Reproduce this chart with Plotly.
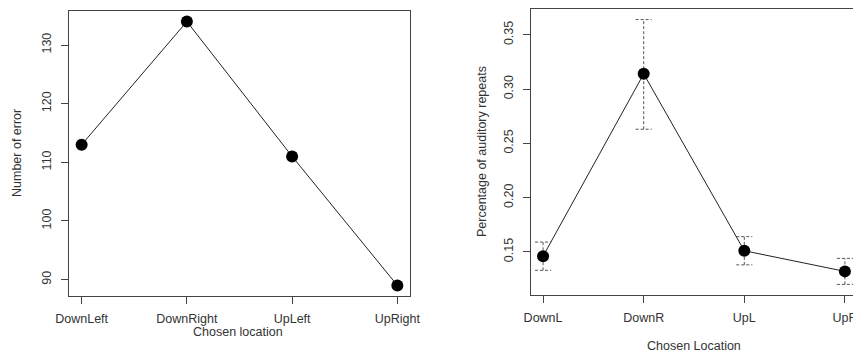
import plotly.graph_objects as go

# --- data -------------------------------------------------------------
locations_full = ["DownLeft", "DownRight", "UpLeft", "UpRight"]
error_counts = [113, 134, 111, 89]

locations_short = ["DownL", "DownR", "UpL", "UpR"]
repeat_pct = [0.146, 0.314, 0.151, 0.132]
repeat_upper = [0.159, 0.364, 0.164, 0.144]
repeat_lower = [0.133, 0.263, 0.138, 0.120]

left_yticks = [90, 100, 110, 120, 130]
right_yticks = [0.15, 0.20, 0.25, 0.30, 0.35]

# --- styling ----------------------------------------------------------
W, H = 853, 353
FONT = dict(family="Liberation Sans, Arial, sans-serif", size=12.5, color="#333333")
AXIS_COL = "#444444"
CAP_HALF = 0.08  # half-width of error bar caps, in x units


def px_x(p):
    return p / W


def px_y(p):
    return 1 - p / H


def padded(lo, hi, frac=0.04):
    d = (hi - lo) * frac
    return [lo - d, hi + d]


pos_left = [i + 1 for i in range(len(locations_full))]
pos_right = [i + 1 for i in range(len(locations_short))]

fig = go.Figure()

# left panel: number of errors
fig.add_trace(go.Scatter(
    x=pos_left, y=error_counts, mode="lines+markers",
    line=dict(color="#222222", width=1),
    marker=dict(color="black", size=12, line=dict(width=0)),
    xaxis="x", yaxis="y", cliponaxis=False, showlegend=False,
))

# right panel: dashed error bars built from the bounds
ex, ey = [], []
for p, lo, hi in zip(pos_right, repeat_lower, repeat_upper):
    ex += [p, p, None, p - CAP_HALF, p + CAP_HALF, None, p - CAP_HALF, p + CAP_HALF, None]
    ey += [lo, hi, None, hi, hi, None, lo, lo, None]
fig.add_trace(go.Scatter(
    x=ex, y=ey, mode="lines",
    line=dict(color="#555555", width=1, dash="3px,2px"),
    xaxis="x2", yaxis="y2", cliponaxis=False, showlegend=False,
))
fig.add_trace(go.Scatter(
    x=pos_right, y=repeat_pct, mode="lines+markers",
    line=dict(color="#222222", width=1),
    marker=dict(color="black", size=12, line=dict(width=0)),
    xaxis="x2", yaxis="y2", cliponaxis=False, showlegend=False,
))

axis_common = dict(
    showgrid=False, zeroline=False, showline=True, linecolor=AXIS_COL, linewidth=1,
    ticks="outside", ticklen=7, tickcolor=AXIS_COL, tickfont=FONT, automargin=False,
    ticklabeloverflow="allow",
)

# right panel x range: panel extends past the right edge of the canvas
r_left_px, r_right_full = 531, 857
r_range_hi = 0.88 + 3.24 * (W - r_left_px) / (r_right_full - r_left_px)

fig.update_layout(
    width=W, height=H, margin=dict(l=0, r=0, t=0, b=0),
    paper_bgcolor="white", plot_bgcolor="white", font=FONT,
    xaxis=dict(axis_common, domain=[px_x(69), px_x(410)], range=[0.88, 4.12],
               tickvals=pos_left, ticktext=locations_full, mirror=True,
               anchor="y", ticklabelstandoff=4),
    yaxis=dict(axis_common, domain=[px_y(296), px_y(11)],
               range=padded(min(error_counts), max(error_counts)),
               tickvals=left_yticks, tickangle=-90, mirror=True,
               anchor="x", ticklabelstandoff=5),
    xaxis2=dict(axis_common, domain=[px_x(r_left_px), 1.0], range=[0.88, r_range_hi],
                tickvals=pos_right, ticktext=locations_short, mirror=True,
                anchor="y2", ticklabelstandoff=4),
    yaxis2=dict(axis_common, domain=[px_y(295), px_y(9)],
                range=padded(min(repeat_lower), max(repeat_upper)),
                tickvals=right_yticks, tickformat=".2f", tickangle=-90,
                anchor="x2", ticklabelstandoff=5),
)

# axis titles
titles = [
    ("Chosen location", 238, 332, 0),
    ("Number of error", 17, 153, -90),
    ("Chosen Location", 694, 346, 0),
    ("Percentage of auditory repeats", 482, 152, -90),
]
for text, x, y, ang in titles:
    fig.add_annotation(text=text, x=px_x(x), y=px_y(y), xref="paper", yref="paper",
                       showarrow=False, textangle=ang, font=FONT,
                       xanchor="center", yanchor="middle")

fig.write_html("out.html")
